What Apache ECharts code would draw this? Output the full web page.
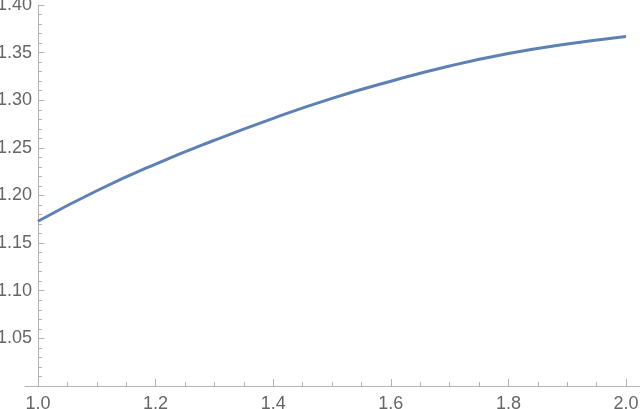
<!DOCTYPE html>
<html>
<head>
<meta charset="utf-8">
<script src="https://cdn.jsdelivr.net/npm/echarts@6/dist/echarts.min.js"></script>
<style>html,body{margin:0;padding:0;background:#fff}#c{width:640px;height:409px}</style>
</head>
<body>
<div id="c"></div>
<script>
var xValues = [1.0, 1.1, 1.2, 1.3, 1.4, 1.5, 1.6, 1.7, 1.8, 1.9, 2.0];
var yValues = [1.173, 1.205, 1.233, 1.258, 1.281, 1.302, 1.320, 1.336, 1.349, 1.359, 1.367];
var xMajorTicks = [1.0, 1.2, 1.4, 1.6, 1.8, 2.0];
var xMinorTicks = [1.05, 1.1, 1.15, 1.25, 1.3, 1.35, 1.45, 1.5, 1.55, 1.65, 1.7, 1.75, 1.85, 1.9, 1.95];

var axisGray = '#b3b3b3';
var labelGray = '#666666';
var pts = xValues.map(function (x, i) { return [x, yValues[i]]; });

var chart = echarts.init(document.getElementById('c'), null, {renderer: 'canvas'});
chart.setOption({
  animation: false,
  grid: {left: 25, right: 0, top: 5, bottom: 23, containLabel: false, outerBoundsMode: 'none'},
  xAxis: [{
    type: 'value', min: 1 - 13 / 588, max: 1 + 602 / 588, position: 'bottom',
    axisLine: {onZero: false, lineStyle: {color: axisGray, width: 1}},
    axisTick: {inside: true, length: 7, customValues: xMajorTicks, lineStyle: {color: axisGray}},
    axisLabel: {customValues: xMajorTicks, margin: 9, color: labelGray, fontSize: 18,
      fontFamily: 'Liberation Sans, sans-serif',
      formatter: function (v) { return v.toFixed(1); }},
    splitLine: {show: false}
  }, {
    type: 'value', min: 1 - 13 / 588, max: 1 + 602 / 588, position: 'bottom', gridIndex: 0,
    axisLine: {show: false, onZero: false},
    axisTick: {inside: true, length: 4, customValues: xMinorTicks, lineStyle: {color: axisGray}},
    axisLabel: {show: false},
    splitLine: {show: false}
  }],
  yAxis: {
    type: 'value', min: 1.0, max: 1.4, interval: 0.05, offset: -13,
    axisLine: {show: true, onZero: false, lineStyle: {color: axisGray, width: 1}},
    axisTick: {inside: true, length: 6.5, lineStyle: {color: axisGray}},
    minorTick: {show: true, splitNumber: 5, length: 4, lineStyle: {color: axisGray}},
    axisLabel: {showMinLabel: false, margin: 6, color: labelGray, fontSize: 18,
      fontFamily: 'Liberation Sans, sans-serif',
      formatter: function (v) { return v.toFixed(2); }},
    splitLine: {show: false}
  },
  series: [{
    type: 'line', xAxisIndex: 0, data: pts, smooth: true, showSymbol: false,
    lineStyle: {color: '#5e81b5', width: 3}
  }]
});
</script>
</body>
</html>
